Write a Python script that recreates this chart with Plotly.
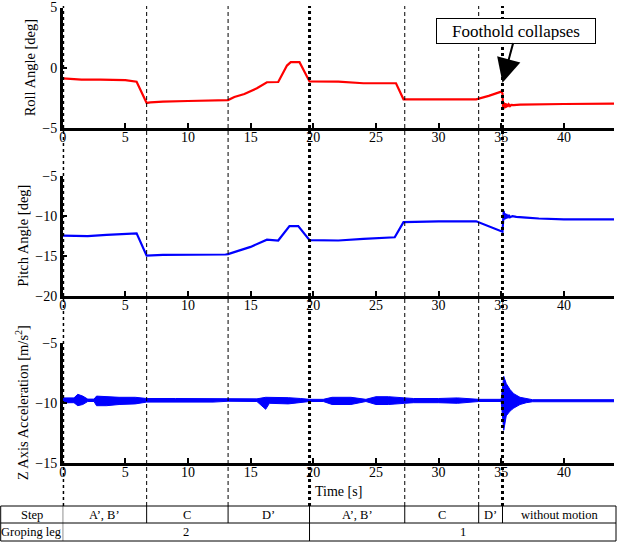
import plotly.graph_objects as go

# ---- data ----
roll_t = [0, 1, 1.5, 3, 5, 5.9, 6.7, 7, 8, 10, 13.0, 13.2, 13.7, 14.5, 15.5, 16.3,
          17.2, 17.9, 18.2, 18.9, 19.7, 22, 24, 26.6, 27.2, 30, 33.0, 34.0, 35.0,
          35.1, 35.15, 35.2, 35.25, 35.3, 35.35, 35.4, 35.5, 35.6, 35.7, 35.8, 36.0,
          36.5, 38, 40, 44]
roll = [-0.9, -0.97, -1.0, -1.0, -1.05, -1.17, -2.94, -2.9, -2.83, -2.78, -2.75, -2.7,
        -2.45, -2.2, -1.72, -1.22, -1.2, 0.17, 0.45, 0.45, -1.15, -1.17, -1.3, -1.3,
        -2.64, -2.67, -2.64, -2.35, -2.0, -2.15, -3.5, -2.9, -3.4, -2.95, -3.35, -3.0,
        -3.25, -3.05, -3.2, -3.1, -3.12, -3.08, -3.05, -3.03, -3.0]

pitch_t = [0, 2, 3.5, 5.9, 6.7, 8, 13.0, 13.2, 14, 15, 16.3, 17.2, 18.1, 18.8, 19.7,
           22, 24, 26.5, 27.2, 30, 33.0, 35.0, 35.1, 35.2, 35.25, 35.3, 35.35, 35.4,
           35.5, 35.6, 35.7, 35.9, 36.2, 37, 38, 40, 44]
pitch = [-12.5, -12.55, -12.4, -12.2, -15.0, -14.9, -14.85, -14.8, -14.4, -13.9, -13.0,
         -13.1, -11.3, -11.3, -13.05, -13.1, -12.9, -12.7, -10.8, -10.7, -10.7, -12.0,
         -12.0, -9.4, -10.5, -9.7, -10.4, -9.8, -10.3, -9.9, -10.2, -10.05, -10.15,
         -10.25, -10.35, -10.45, -10.45]

# z acceleration: noisy signal, kept as its upper / lower envelope
acc_t = [0, 0.9, 1.2, 1.6, 2.0, 2.5, 2.7, 3.5, 4.5, 5.8, 6.7, 9, 12, 13.2, 15.5, 16.2,
         16.5, 18, 19.0, 19.7, 20.8, 21.5, 23, 24.2, 25.0, 26, 27.3, 28, 30, 31.5, 33.2,
         35.0, 35.2, 35.4, 35.7, 36.0, 36.5, 37.0, 37.5, 44]
acc_hi = [-9.6, -9.6, -9.3, -9.45, -9.7, -9.7, -9.45, -9.5, -9.55, -9.55, -9.65, -9.65,
          -9.65, -9.7, -9.68, -9.55, -9.55, -9.58, -9.65, -9.72, -9.72, -9.55, -9.55, -9.72,
          -9.5, -9.5, -9.6, -9.65, -9.65, -9.6, -9.72, -9.72, -7.8, -8.4, -8.9, -9.25,
          -9.55, -9.68, -9.75, -9.75]
acc_lo = [-10.0, -10.0, -10.25, -10.15, -9.9, -9.9, -10.25, -10.25, -10.15, -10.1, -9.95,
          -9.95, -9.95, -9.88, -9.9, -10.55, -10.05, -10.1, -9.95, -9.9, -9.9, -10.15,
          -10.15, -9.9, -10.15, -10.15, -10.05, -10.0, -10.0, -10.05, -9.9, -9.9, -12.3,
          -11.1, -10.7, -10.45, -10.15, -10.0, -9.92, -9.92]

thin_marks = [6.7, 13.2, 27.3, 33.2]
thick_marks = [0, 19.7, 35.1]
x_ticks = [0, 5, 10, 15, 20, 25, 30, 35, 40]

step_bounds = [0, 6.7, 13.2, 19.7, 27.3, 33.2, 35.1]
step_labels = ["A’, B’", "C", "D’", "A’, B’", "C", "D’", "without motion"]
leg_bounds = [0, 19.7]
leg_labels = ["2", "1"]

RED = "#ff0000"
BLUE = "#0000ff"
FONT = "Liberation Serif"
W, H = 617, 542
X_END = 44

fig = go.Figure()
fig.add_trace(go.Scatter(x=roll_t, y=roll, mode="lines", line=dict(color=RED, width=2.2),
                         xaxis="x", yaxis="y", showlegend=False))
fig.add_trace(go.Scatter(x=pitch_t, y=pitch, mode="lines", line=dict(color=BLUE, width=2.2),
                         xaxis="x2", yaxis="y2", showlegend=False))
fig.add_trace(go.Scatter(x=acc_t, y=acc_lo, mode="lines", line=dict(color=BLUE, width=1),
                         xaxis="x3", yaxis="y3", showlegend=False))
fig.add_trace(go.Scatter(x=acc_t, y=acc_hi, mode="lines", line=dict(color=BLUE, width=1),
                         fill="tonexty", fillcolor=BLUE,
                         xaxis="x3", yaxis="y3", showlegend=False))

xdom = [62.7 / W, 614 / W]


def py(px):
    # pixel row from the top -> paper fraction
    return 1 - px / H


axis_common = dict(showline=True, linecolor="black", linewidth=2.5, ticks="inside",
                   ticklen=5, tickwidth=2, tickcolor="black", showgrid=False,
                   zeroline=False, automargin=False,
                   tickfont=dict(family=FONT, size=14, color="black"))

panels = [("", "y", [py(127.7), py(7.5)], [-5, 5], [-5, 0, 5], "Roll Angle [deg]"),
          ("2", "y2", [py(295.7), py(175.7)], [-20, -5], [-20, -15, -10, -5],
           "Pitch Angle [deg]"),
          ("3", "y3", [py(462.7), py(342.7)], [-15, -5], [-15, -10, -5],
           "Z Axis Acceleration [m/s<sup>2</sup>]")]

layout = {}
for suf, yname, dom, rng, yt, title in panels:
    layout["xaxis" + suf] = dict(domain=xdom, anchor=yname, range=[0, X_END],
                                 tickvals=x_ticks, ticklabelstandoff=-5, **axis_common)
    layout["yaxis" + suf] = dict(domain=dom, anchor="x" + suf, range=rng, tickvals=yt,
                                 title=dict(text=title, standoff=4,
                                            font=dict(family=FONT, size=14.5, color="black")),
                                 **axis_common)
fig.update_layout(**layout)

shapes = []
for t in thin_marks:
    shapes.append(dict(type="line", xref="x", yref="paper", x0=t, x1=t,
                       y0=py(506), y1=py(6),
                       line=dict(color="black", width=1, dash="4px,3px")))
for t in thick_marks:
    shapes.append(dict(type="line", xref="x", yref="paper", x0=t, x1=t,
                       y0=py(506), y1=py(6),
                       line=dict(color="black", width=3, dash="dot")))

# table at the bottom
row_top, row_mid, row_bot = py(506), py(523), py(541)
left_px, right_px = 0.7 / W, 616 / W
for yy in [row_top, row_mid, row_bot]:
    shapes.append(dict(type="line", xref="paper", yref="paper", x0=left_px, x1=right_px,
                       y0=yy, y1=yy, line=dict(color="black", width=1)))
for xx in [left_px, right_px]:
    shapes.append(dict(type="line", xref="paper", yref="paper", x0=xx, x1=xx,
                       y0=row_bot, y1=row_top, line=dict(color="black", width=1)))
for b in step_bounds:
    shapes.append(dict(type="line", xref="x", yref="paper", x0=b, x1=b,
                       y0=row_mid, y1=row_top, line=dict(color="black", width=1)))
for b in leg_bounds:
    shapes.append(dict(type="line", xref="x", yref="paper", x0=b, x1=b,
                       y0=row_bot, y1=row_mid, line=dict(color="black", width=1)))

x_right_data = (616 - 62.7) / (614 - 62.7) * X_END
annotations = []
cell_font = dict(family=FONT, size=12.5, color="black")
centered = dict(showarrow=False, xanchor="center", yanchor="middle")
annotations.append(dict(x=(left_px + xdom[0]) / 2, y=(row_top + row_mid) / 2, xref="paper",
                        yref="paper", text="Step", font=cell_font, **centered))
annotations.append(dict(x=(left_px + xdom[0]) / 2, y=(row_mid + row_bot) / 2, xref="paper",
                        yref="paper", text="Groping leg", font=cell_font, **centered))
edges = step_bounds + [x_right_data]
for i, lab in enumerate(step_labels):
    annotations.append(dict(x=(edges[i] + edges[i + 1]) / 2, y=(row_top + row_mid) / 2,
                            xref="x", yref="paper", text=lab, font=cell_font, **centered))
edges = leg_bounds + [x_right_data]
for i, lab in enumerate(leg_labels):
    annotations.append(dict(x=(edges[i] + edges[i + 1]) / 2, y=(row_mid + row_bot) / 2,
                            xref="x", yref="paper", text=lab, font=cell_font, **centered))

annotations.append(dict(x=(xdom[0] + xdom[1]) / 2, y=py(491), xref="paper", yref="paper",
                        text="Time [s]", font=dict(family=FONT, size=14, color="black"),
                        **centered))

annotations.append(dict(x=35.1, y=-1.25, xref="x", yref="y", text="Foothold collapses",
                        showarrow=True, ax=14, ay=-52, arrowhead=2, arrowsize=2.4,
                        arrowwidth=2, arrowcolor="black", standoff=0,
                        bordercolor="black", borderwidth=1, borderpad=3, bgcolor="white",
                        width=152, height=18,
                        font=dict(family=FONT, size=17, color="black")))

fig.update_layout(width=W, height=H,
                  margin=dict(l=0, r=0, t=0, b=0, autoexpand=False),
                  plot_bgcolor="white", paper_bgcolor="white",
                  shapes=shapes, annotations=annotations,
                  font=dict(family=FONT, color="black"))

# pin the plot to the page corner so the body margin does not shift it
pin = ("document.body.style.margin='0';document.body.style.padding='0';"
       "var gd=document.getElementById('{plot_id}');"
       "gd.style.position='absolute';gd.style.left='0px';gd.style.top='0px';")
fig.write_html("out.html", post_script=pin, config={"displayModeBar": False})
